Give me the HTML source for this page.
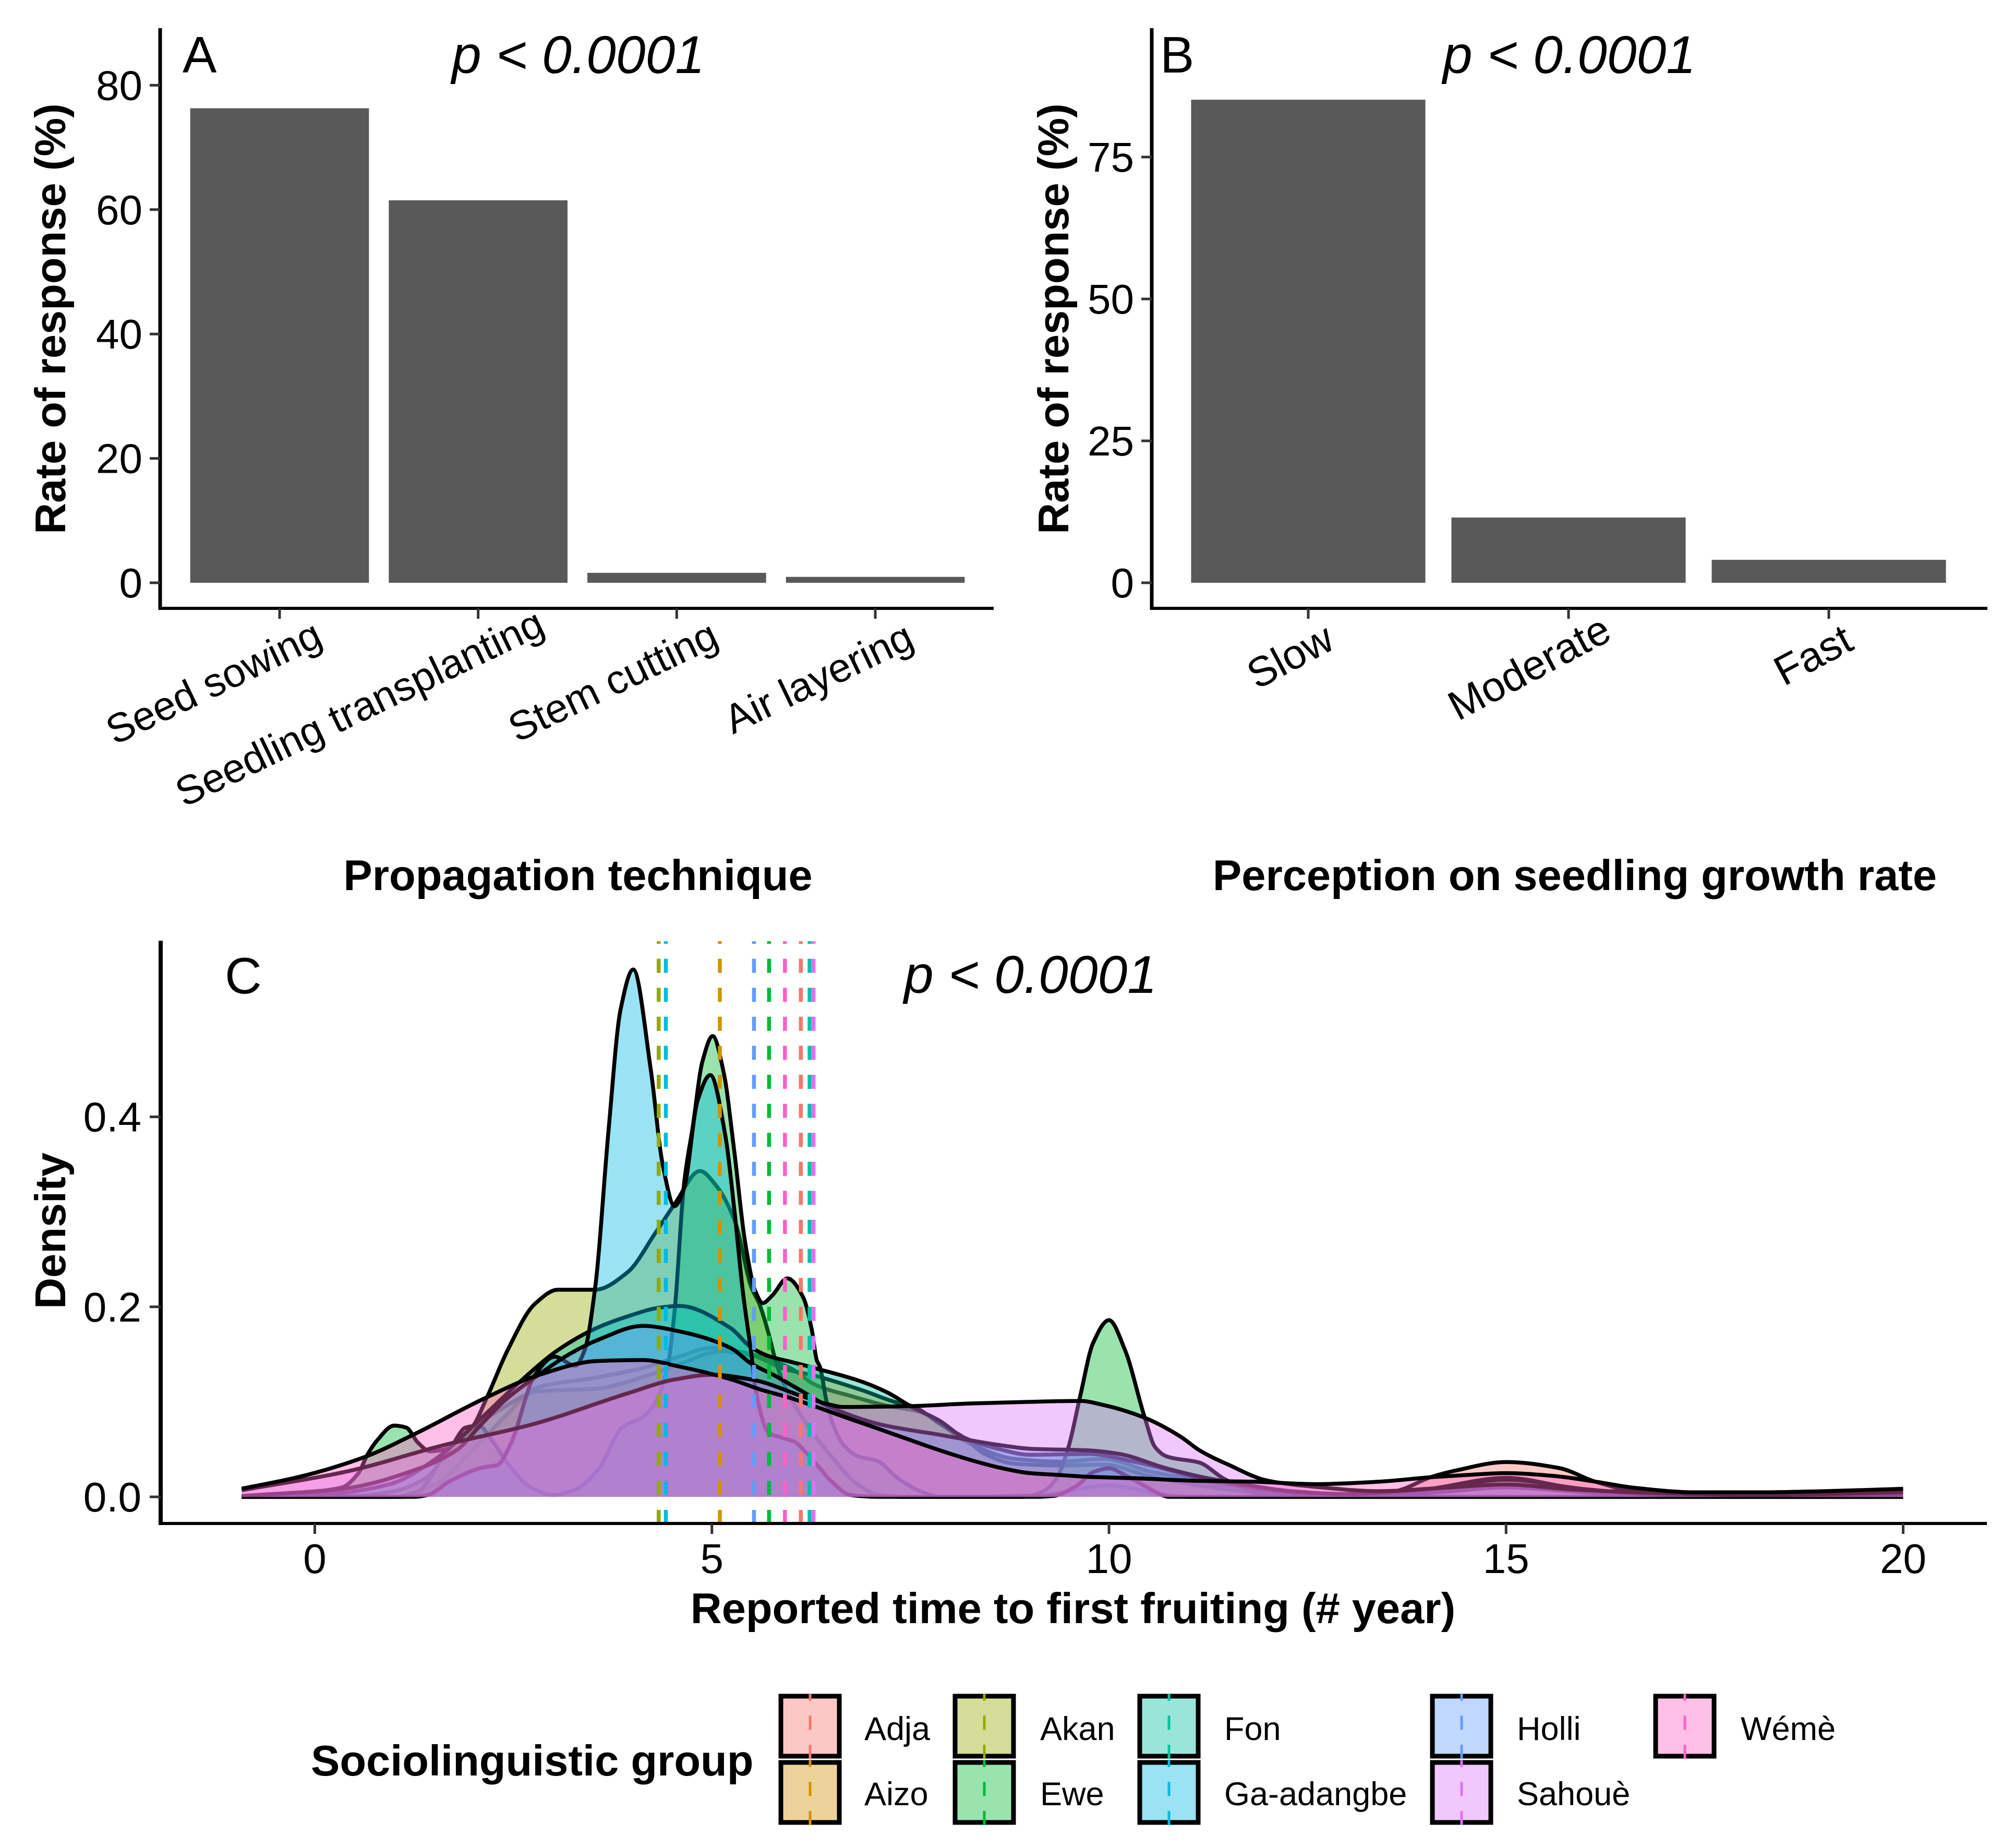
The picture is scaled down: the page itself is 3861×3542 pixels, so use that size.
<!DOCTYPE html>
<html lang="en">
<head>
<meta charset="utf-8">
<title>Propagation, growth rate and time to first fruiting</title>
<style>
html,body{margin:0;padding:0;background:#fff;}
svg{display:block;position:absolute;left:0;top:0;}
text{font-family:"Liberation Sans",Arial,sans-serif;fill:#000;}
.tick{font-size:80px;}
.axt{font-size:83px;font-weight:bold;}
.tag{font-size:98px;}
.pv{font-size:102px;font-style:italic;}
.leg{font-size:63px;}
</style>
</head>
<body>
<svg id="fig" xmlns="http://www.w3.org/2000/svg" width="3861" height="3542" viewBox="0 0 3861 3542">
  <rect x="0" y="0" width="3861" height="3542" fill="#fff"/>

  <g id="panelA"></g>
  <g id="panelB"></g>
  <g id="panelC"></g>

  <text class="tag" x="350" y="139">A</text>
  <text class="pv" x="866" y="140">p &lt; 0.0001</text>
  <text class="axt" transform="translate(125,611) rotate(-90)" text-anchor="middle">Rate of response (%)</text>
  <text class="axt" x="1108" y="1706" text-anchor="middle">Propagation technique</text>

  <text class="tag" x="2224" y="139">B</text>
  <text class="pv" x="2766" y="140">p &lt; 0.0001</text>
  <text class="axt" transform="translate(2048,611) rotate(-90)" text-anchor="middle">Rate of response (%)</text>
  <text class="axt" x="3019" y="1706" text-anchor="middle">Perception on seedling growth rate</text>

  <text class="tag" x="431" y="1904">C</text>
  <text class="pv" x="1733" y="1903">p &lt; 0.0001</text>
  <text class="axt" transform="translate(125,2359) rotate(-90)" text-anchor="middle">Density</text>
  <text class="axt" x="2057" y="3111" text-anchor="middle">Reported time to first fruiting (# year)</text>

  <g>
    <text class="axt" x="596" y="3403">Sociolinguistic group</text>

    <g>
      <rect x="1497" y="3251" width="112" height="115" fill="#F8766D" fill-opacity="0.4" stroke="#000" stroke-width="9"/>
      <line x1="1553" y1="3371" x2="1553" y2="3247" stroke="#F8766D" stroke-width="5" stroke-dasharray="27 28.6"/>
      <text class="leg" x="1657" y="3335">Adja</text>
    </g>
    <g>
      <rect x="1497" y="3378" width="112" height="115" fill="#D39200" fill-opacity="0.4" stroke="#000" stroke-width="9"/>
      <line x1="1553" y1="3498" x2="1553" y2="3374" stroke="#D39200" stroke-width="5" stroke-dasharray="27 28.6"/>
      <text class="leg" x="1657" y="3460">Aizo</text>
    </g>
    <g>
      <rect x="1831" y="3251" width="112" height="115" fill="#93AA00" fill-opacity="0.4" stroke="#000" stroke-width="9"/>
      <line x1="1887" y1="3371" x2="1887" y2="3247" stroke="#93AA00" stroke-width="5" stroke-dasharray="27 28.6"/>
      <text class="leg" x="1994" y="3335">Akan</text>
    </g>
    <g>
      <rect x="1831" y="3378" width="112" height="115" fill="#00BA38" fill-opacity="0.4" stroke="#000" stroke-width="9"/>
      <line x1="1887" y1="3498" x2="1887" y2="3374" stroke="#00BA38" stroke-width="5" stroke-dasharray="27 28.6"/>
      <text class="leg" x="1994" y="3460">Ewe</text>
    </g>
    <g>
      <rect x="2185" y="3251" width="112" height="115" fill="#00C19F" fill-opacity="0.4" stroke="#000" stroke-width="9"/>
      <line x1="2241" y1="3371" x2="2241" y2="3247" stroke="#00C19F" stroke-width="5" stroke-dasharray="27 28.6"/>
      <text class="leg" x="2347" y="3335">Fon</text>
    </g>
    <g>
      <rect x="2185" y="3378" width="112" height="115" fill="#00B9E3" fill-opacity="0.4" stroke="#000" stroke-width="9"/>
      <line x1="2241" y1="3498" x2="2241" y2="3374" stroke="#00B9E3" stroke-width="5" stroke-dasharray="27 28.6"/>
      <text class="leg" x="2347" y="3460">Ga-adangbe</text>
    </g>
    <g>
      <rect x="2746" y="3251" width="112" height="115" fill="#619CFF" fill-opacity="0.4" stroke="#000" stroke-width="9"/>
      <line x1="2802" y1="3371" x2="2802" y2="3247" stroke="#619CFF" stroke-width="5" stroke-dasharray="27 28.6"/>
      <text class="leg" x="2908" y="3335">Holli</text>
    </g>
    <g>
      <rect x="2746" y="3378" width="112" height="115" fill="#DB72FB" fill-opacity="0.4" stroke="#000" stroke-width="9"/>
      <line x1="2802" y1="3498" x2="2802" y2="3374" stroke="#DB72FB" stroke-width="5" stroke-dasharray="27 28.6"/>
      <text class="leg" x="2908" y="3460">Sahouè</text>
    </g>
    <g>
      <rect x="3174" y="3251" width="112" height="115" fill="#FF61C3" fill-opacity="0.4" stroke="#000" stroke-width="9"/>
      <line x1="3230" y1="3371" x2="3230" y2="3247" stroke="#FF61C3" stroke-width="5" stroke-dasharray="27 28.6"/>
      <text class="leg" x="3337" y="3335">Wémè</text>
    </g>
  </g>
</svg>

<script>
// ---- Panel A data ----
const techniqueCategories = ["Seed sowing", "Seedling transplanting", "Stem cutting", "Air layering"];
const techniqueValues = [76.3, 61.5, 1.6, 0.95];
const techniqueTicks = [0, 20, 40, 60, 80];

// ---- Panel B data ----
const growthCategories = ["Slow", "Moderate", "Fast"];
const growthValues = [85.1, 11.5, 4.05];
const growthTicks = [0, 25, 50, 75];

// ---- Panel C data ----
const densityXTicks = [0, 5, 10, 15, 20];
const densityYTicks = [0, 0.2, 0.4];
const densityYTickLabels = ["0.0", "0.2", "0.4"];

const groupNames = ["Adja", "Aizo", "Akan", "Ewe", "Fon", "Ga-adangbe", "Holli", "Sahouè", "Wémè"];
const groupColors = ["#F8766D", "#D39200", "#93AA00", "#00BA38", "#00C19F", "#00B9E3", "#619CFF", "#DB72FB", "#FF61C3"];
const groupMeans = [6.12, 5.10, 4.33, 5.72, 6.23, 4.42, 5.53, 6.28, 5.92];

const adjaYears = [-0.92,1.1,1.5,2,2.4,2.8,3.5,4.1,4.6,5,5.5,6,6.3,6.8,7.2,7.6,8.25,8.81,9.38,9.94,10.5,11.14,11.7,12.4,13,13.6,14.06,14.38,15,15.66,16.13,16.6,17.2,18,20];
const adjaDensity = [0,0,.012,.05,.085,.115,.125,.135,.148,.157,.15,.135,.118,.105,.096,.09,.056,.04,.037,.04,.027,.017,.008,.003,.002,.006,.021,.028,.0367,.0305,.0158,.006,.001,0,0];

const aizoYears = [-0.92,.5,1,1.4,1.8,2.3,2.81,3.56,4.13,4.6,5.1,5.5,5.9,6.32,6.9,7.3,7.5,7.6,7.87,8.17,8.44,8.81,9.38,9.94,10.5,11.14,11.7,12.4,13.2,14,15,15.8,16.6,17.5,20];
const aizoDensity = [0,.001,.006,.02,.06,.09,.111,.114,.126,.14,.153,.149,.135,.127,.112,.1,.096,.0925,.077,.0626,.045,.035,.033,.034,.022,.012,.006,.003,.002,.008,.02,.01,.003,.001,.002];

const akanYears = [-0.92,1,1.3,1.68,1.98,2.18,2.42,2.77,3.06,3.3,3.53,3.94,4.29,4.53,4.85,5.05,5.29,5.5,5.6,5.72,5.8,5.9,6.02,6.21,6.55,6.82,7.1,7.4,8.9,9.2,10,10.7,11,20];
const akanDensity = [0,0,.006,.05,.073,.107,.153,.203,.218,.218,.218,.2366,.278,.308,.343,.328,.29,.22,.2026,.17,.144,.12,.1,.0745,.038,.014,.002,0,0,.002,.012,.002,0,0];

const eweYears = [-0.92,.33,.55,.66,.78,1,1.15,1.3,1.45,1.68,1.9,2.06,2.25,2.44,2.7,3,3.3,3.57,3.87,4.13,4.28,4.44,4.53,4.65,4.76,4.88,5.01,5.15,5.28,5.42,5.55,5.64,5.76,5.95,6.15,6.26,6.32,6.36,6.44,6.51,6.66,6.85,7.08,7.34,7.65,7.87,9,9.19,9.34,9.49,9.64,9.8,10,10.2,10.45,10.58,10.73,11.14,11.45,11.9,12.2,20];
const eweDensity = [0,.0096,.025,.044,.059,.075,.073,.057,.048,.051,.073,.075,.057,.034,.011,.002,.0086,.029,.073,.084,.098,.136,.195,.33,.39,.458,.485,.446,.365,.267,.216,.204,.212,.23,.21,.175,.144,.137,.102,.08,.0543,.0425,.038,.0196,.005,0,.0013,.0068,.0196,.0525,.107,.162,.186,.155,.0836,.0525,.0425,.036,.019,.003,0,0];

const fonYears = [-0.92,.17,.93,1.49,2.06,2.58,3.07,3.53,3.94,4.33,4.59,5.23,5.5,5.72,6,6.32,6.93,7.23,7.49,7.87,8.17,8.63,9,9.75,10.32,10.9,11.14,11.7,12.4,13.5,14.3,15,15.8,16.6,17.5,20];
const fonDensity = [0,.003,.013,.038,.08,.121,.155,.177,.19,.199,.201,.178,.157,.148,.142,.135,.12,.109,.096,.08,.0626,.05,.0443,.0452,.037,.025,.0196,.011,.004,.002,.006,.01,.006,.002,.001,.001];

const gaYears = [-0.92,1.25,1.42,1.71,2.12,2.3,2.47,2.77,3.02,3.28,3.4,3.53,3.7,3.85,4.01,4.23,4.38,4.53,4.65,4.82,4.98,5.17,5.28,5.39,5.5,5.55,5.72,5.87,6.04,6.18,6.32,6.51,6.74,7.1,9.1,9.3,9.6,9.8,10,10.2,10.44,10.7,10.75,20];
const gaDensity = [0,0,.002,.017,.031,.0335,.0565,.128,.1475,.138,.155,.22,.387,.513,.555,.45,.35,.306,.325,.417,.444,.38,.304,.216,.148,.113,.067,.0626,.058,.047,.034,.016,.002,0,0,.001,.012,.026,.03,.023,.012,.001,0,0];

const holliYears = [-0.92,.36,1.3,1.8,2.06,2.4,2.81,3.18,3.56,4.13,4.6,5.23,5.5,5.76,6.14,6.44,7.12,7.87,8.63,9,9.75,10.13,10.7,11.14,11.7,12.3,13,14,15,16,17,18,20];
const holliDensity = [.001,.0086,.0295,.05,.073,.102,.128,.149,.165,.18,.174,.157,.14,.129,.111,.0964,.0763,.0653,.0544,.0507,.0489,.0452,.0306,.0214,.013,.006,.003,.008,.018,.008,.002,.001,.003];

const sahoueYears = [-0.92,.42,1.6,2.77,3.94,4.53,5,5.5,6.17,6.44,6.66,7.49,8.25,9,9.64,9.94,10.44,10.9,11.14,11.5,12,12.6,13.4,14.2,15,15.8,16.6,18.2,20];
const sahoueDensity = [.007,.027,.054,.077,.109,.1235,.1285,.1235,.105,.098,.0946,.0955,.0983,.1,.101,.0965,.0836,.0635,.049,.034,.017,.0105,.006,.0095,.013,.008,.005,.002,.005];

const wemeYears = [-0.92,-.2,.63,1.23,2.17,2.81,3.56,4.13,4.6,5.23,5.61,5.99,6.32,6.74,7.12,7.49,7.87,8.25,8.63,9,9.38,9.76,10.32,11.14,11.8,12.6,13.4,14.06,14.5,15,15.6,16.13,16.6,17.4,18.2,19,20];
const wemeDensity = [.0086,.021,.042,.065,.105,.128,.143,.144,.137,.124,.113,.104,.0946,.082,.071,.06,.049,.039,.0306,.025,.023,.021,.0196,.0168,.016,.0134,.016,.0207,.023,.025,.022,.016,.0097,.0048,.0048,.006,.0085];

const groupYears = [adjaYears, aizoYears, akanYears, eweYears, fonYears, gaYears, holliYears, sahoueYears, wemeYears];
const groupDensity = [adjaDensity, aizoDensity, akanDensity, eweDensity, fonDensity, gaDensity, holliDensity, sahoueDensity, wemeDensity];

// ---- Helpers ----
const NS = "http://www.w3.org/2000/svg";
function mk(parent, tag, attrs, txt) {
  const el = document.createElementNS(NS, tag);
  for (const k in attrs) el.setAttribute(k, attrs[k]);
  if (txt !== undefined) el.textContent = txt;
  parent.appendChild(el);
  return el;
}
function slug(s) {
  return String(s).toLowerCase().replace(/è/g, "e").replace(/é/g, "e").replace(/[^a-z0-9]+/g, "-");
}
// Monotone cubic (x-monotone) path through the knots
function monotonePath(px, py) {
  const n = px.length, d = [], m = [];
  for (let i = 0; i < n - 1; i++) d.push((py[i + 1] - py[i]) / (px[i + 1] - px[i]));
  m.push(d[0]);
  for (let i = 1; i < n - 1; i++) {
    if (d[i - 1] * d[i] <= 0) { m.push(0); continue; }
    const h0 = px[i] - px[i - 1], h1 = px[i + 1] - px[i];
    const w1 = 2 * h1 + h0, w2 = h1 + 2 * h0;
    m.push((w1 + w2) / (w1 / d[i - 1] + w2 / d[i]));
  }
  m.push(d[n - 2]);
  let s = "M" + px[0].toFixed(1) + " " + py[0].toFixed(1);
  for (let i = 0; i < n - 1; i++) {
    const h = (px[i + 1] - px[i]) / 3;
    s += "C" + (px[i] + h).toFixed(1) + " " + (py[i] + m[i] * h).toFixed(1) + " " +
         (px[i + 1] - h).toFixed(1) + " " + (py[i + 1] - m[i + 1] * h).toFixed(1) + " " +
         px[i + 1].toFixed(1) + " " + py[i + 1].toFixed(1);
  }
  return s;
}

// ---- Bar panels ----
function drawBars(cfg) {
  const g = document.getElementById(cfg.id);
  const yScale = v => cfg.y0 - v * cfg.pxPerUnit;
  const bandCenter = i => cfg.firstCenter + i * cfg.step;
  const barW = cfg.step * 0.9;

  cfg.values.forEach((v, i) => {
    const bar = mk(g, "rect", {
      x: bandCenter(i) - barW / 2, y: yScale(v),
      width: barW, height: yScale(0) - yScale(v), fill: "#595959"
    });
    
    
  });

  const yAxis = mk(g, "line", { x1: cfg.axisX, y1: cfg.axisTop, x2: cfg.axisX, y2: cfg.axisY + 3, stroke: "#000", "stroke-width": 7 });
  
  
  const xAxis = mk(g, "line", { x1: cfg.axisX - 3, y1: cfg.axisY, x2: cfg.axisRight, y2: cfg.axisY, stroke: "#000", "stroke-width": 6 });
  
  

  cfg.ticks.forEach(t => {
    const tk = mk(g, "line", { x1: cfg.axisX - 20, y1: yScale(t), x2: cfg.axisX, y2: yScale(t), stroke: "#333", "stroke-width": 5 });
    
    
    const lb = mk(g, "text", { class: "tick", x: cfg.axisX - 34, y: yScale(t) + 28, "text-anchor": "end" }, String(t));
    
    
  });

  cfg.categories.forEach((c, i) => {
    const tk = mk(g, "line", { x1: bandCenter(i), y1: cfg.axisY, x2: bandCenter(i), y2: cfg.axisY + 20, stroke: "#333", "stroke-width": 5 });
    
    
    const lb = mk(g, "text", {
      class: "tick",
      style: "font-size:" + cfg.labelSize + "px",
      transform: "translate(" + (bandCenter(i) + cfg.labelDx) + "," + cfg.labelY + ") rotate(" + (-cfg.labelAngle) + ")"
    }, c);
    
    
    lb.setAttribute("x", -cfg.hjust * lb.getComputedTextLength());
  });
}

drawBars({
  id: "panelA", categories: techniqueCategories, values: techniqueValues, ticks: techniqueTicks,
  y0: 1117, pxPerUnit: 11.92, firstCenter: 536, step: 380.67,
  axisX: 307, axisTop: 54, axisY: 1166, axisRight: 1905,
  labelDx: 24, labelY: 1265, hjust: 0.845, labelAngle: 25.7, labelSize: 78
});
drawBars({
  id: "panelB", categories: growthCategories, values: growthValues, ticks: growthTicks,
  y0: 1117, pxPerUnit: 10.88, firstCenter: 2508, step: 499,
  axisX: 2208, axisTop: 54, axisY: 1166, axisRight: 3810,
  labelDx: 21, labelY: 1259, hjust: 0.78, labelAngle: 28, labelSize: 80
});

// ---- Density panel ----
(function () {
  const g = document.getElementById("panelC");
  const xScale = v => 603.5 + v * 152.25;
  const yScale = v => 2869 - v * 1821;
  const baseY = yScale(0);

  groupNames.forEach((name, i) => {
    const px = groupYears[i].map(xScale);
    const py = groupDensity[i].map(yScale);
    const line = monotonePath(px, py);
    const fill = mk(g, "path", {
      d: line + "L" + px[px.length - 1].toFixed(1) + " " + baseY + "L" + px[0].toFixed(1) + " " + baseY + "Z",
      fill: groupColors[i], "fill-opacity": 0.4, stroke: "none"
    });
    
    
    const outline = mk(g, "path", {
      d: line, fill: "none", stroke: "#000", "stroke-width": 7.5, "stroke-linejoin": "round"
    });
    
    
  });

  groupNames.forEach((name, i) => {
    const v = mk(g, "line", {
      x1: xScale(groupMeans[i]), y1: 2921, x2: xScale(groupMeans[i]), y2: 1804,
      stroke: groupColors[i], "stroke-width": 7.5, "stroke-dasharray": "27 28.6"
    });
    
    
  });

  const yAxis = mk(g, "line", { x1: 308, y1: 1803, x2: 308, y2: 2923, stroke: "#000", "stroke-width": 8 });
  
  
  const xAxis = mk(g, "line", { x1: 304, y1: 2920, x2: 3809, y2: 2920, stroke: "#000", "stroke-width": 6 });
  
  

  densityXTicks.forEach(t => {
    const tk = mk(g, "line", { x1: xScale(t), y1: 2920, x2: xScale(t), y2: 2940, stroke: "#333", "stroke-width": 5 });
    
    
    const lb = mk(g, "text", { class: "tick", x: xScale(t), y: 3015, "text-anchor": "middle" }, String(t));
    
    
  });

  densityYTicks.forEach((t, i) => {
    const tk = mk(g, "line", { x1: 287, y1: yScale(t), x2: 308, y2: yScale(t), stroke: "#333", "stroke-width": 5 });
    
    
    const lb = mk(g, "text", { class: "tick", x: 271, y: yScale(t) + 28, "text-anchor": "end" }, densityYTickLabels[i]);
    
    
  });
})();
</script>
</body>
</html>
